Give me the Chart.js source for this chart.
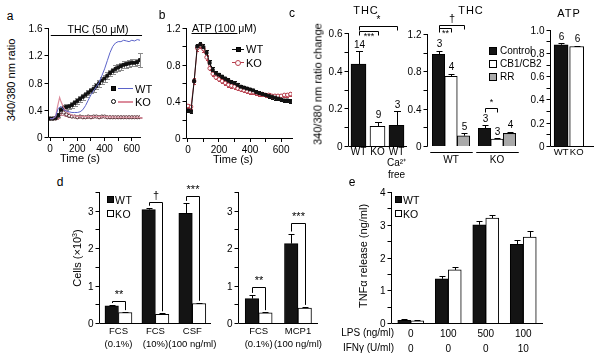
<!DOCTYPE html>
<html>
<head>
<meta charset="utf-8">
<script src="https://cdn.jsdelivr.net/npm/chart.js@4.4.1/dist/chart.umd.min.js"></script>
<style>
body{margin:0;width:600px;height:358px;position:relative;overflow:hidden;background:#fff;font-family:'Liberation Sans',Arial,sans-serif;color:#000}
.t{position:absolute;white-space:nowrap;line-height:1}
.box{position:absolute;box-sizing:border-box;border:1px solid #000}
</style>
</head>
<body>
<script>
// ---------- panel a : THC time course ----------
const aTime = [0,20,40,60,80,100,120,140,160,180,200,220,240,260,280,300,320,340,360,380,400,420,440,460,480,500,520,540,560,580,600,620,640,660];
const aWtMean = [0.27,0.27,0.28,0.32,0.4,0.43,0.44,0.45,0.47,0.5,0.53,0.56,0.59,0.62,0.65,0.68,0.71,0.75,0.79,0.83,0.86,0.9,0.94,0.97,1.0,1.02,1.04,1.06,1.07,1.08,1.09,1.09,1.1,1.13];
const aWtErr = [0.01,0.01,0.02,0.03,0.04,0.04,0.04,0.04,0.04,0.04,0.04,0.04,0.04,0.04,0.04,0.04,0.05,0.05,0.05,0.05,0.05,0.05,0.05,0.05,0.05,0.05,0.05,0.05,0.05,0.05,0.05,0.05,0.05,0.1];
const aKoMean = [0.27,0.27,0.27,0.31,0.37,0.36,0.33,0.31,0.3,0.3,0.29,0.3,0.29,0.29,0.3,0.29,0.3,0.3,0.29,0.3,0.3,0.29,0.29,0.29,0.29,0.29,0.29,0.29,0.29,0.29,0.29,0.29,0.29,0.29];
const aKoErr = [0.01,0.01,0.01,0.03,0.04,0.03,0.02,0.02,0.01,0.01,0.01,0.01,0.01,0.01,0.01,0.01,0.01,0.01,0.01,0.01,0.01,0.01,0.01,0.01,0.01,0.01,0.01,0.01,0.01,0.01,0.01,0.01,0.01,0.01];
const aWtTrace = [0.27,0.27,0.3,0.42,0.45,0.4,0.38,0.37,0.36,0.36,0.36,0.37,0.4,0.46,0.54,0.62,0.68,0.74,0.8,0.9,1.0,1.12,1.24,1.33,1.38,1.4,1.4,1.42,1.41,1.4,1.42,1.41,1.43,1.42];
const aKoTraceTime = [0,20,40,55,70,80,95,110,130,150,180,220,300,400,500,600,660];
const aKoTrace = [0.27,0.27,0.3,0.45,0.58,0.52,0.45,0.4,0.36,0.33,0.31,0.3,0.3,0.3,0.29,0.29,0.29];
const aStim = [5, 675, 1.49];
const aYMajor = [0,0.4,0.8,1.2,1.6];
const aXMajor = [0,200,400,600];
const aXMinor = [100,300,500];

// ---------- panel b : ATP time course ----------
const bTime = aTime;
const bWt = [0.3,0.29,0.62,1.0,1.02,0.99,0.93,0.82,0.74,0.71,0.69,0.67,0.65,0.63,0.61,0.6,0.58,0.56,0.55,0.54,0.53,0.52,0.5,0.49,0.48,0.47,0.46,0.45,0.44,0.43,0.42,0.41,0.41,0.4];
const bWtErr = [0.02,0.02,0.03,0.03,0.03,0.03,0.03,0.03,0.03,0.02,0.02,0.02,0.02,0.02,0.02,0.02,0.02,0.02,0.02,0.02,0.02,0.02,0.02,0.02,0.02,0.02,0.02,0.02,0.02,0.02,0.02,0.02,0.02,0.02];
const bKo = [0.35,0.34,0.62,0.98,1.01,0.97,0.88,0.76,0.7,0.66,0.64,0.62,0.6,0.58,0.57,0.56,0.54,0.53,0.52,0.51,0.5,0.5,0.49,0.48,0.48,0.47,0.47,0.46,0.46,0.46,0.46,0.47,0.47,0.48];
const bKoErr = [0.02,0.02,0.03,0.03,0.03,0.03,0.03,0.02,0.02,0.02,0.02,0.02,0.02,0.02,0.02,0.02,0.02,0.02,0.02,0.02,0.02,0.02,0.02,0.02,0.02,0.02,0.02,0.02,0.02,0.02,0.02,0.02,0.02,0.02];
const bStim = [23, 319, 1.145];
const bYMajor = [0,0.4,0.8,1.2];
const bYMinor = [0.2,0.6,1.0];

// ---------- panel c ----------
const c1Cats = [['WT'],['KO'],['WT','Ca\u00B2\u207A','free']];
const c1Vals = [0.435,0.105,0.11];
const c1Err = [0.07,0.025,0.075];
const c1N = ['14','9','3'];
const c2Cats = ['WT','KO'];
const c2Control = [0.98,0.19];
const c2ControlErr = [0.04,0.03];
const c2ControlN = ['3','3'];
const c2Cb = [0.745,0.075];
const c2CbErr = [0.03,0.01];
const c2CbN = ['4','3'];
const c2Rr = [0.11,0.135];
const c2RrErr = [0.025,0.02];
const c2RrN = ['5','4'];
const c3Cats = ['WT','KO'];
const c3Vals = [0.87,0.855];
const c3Err = [0.015,0.008];
const c3N = ['6','6'];

// ---------- panel d ----------
const d1Cats = [['FCS','(0.1%)'],['FCS','(10%)'],['CSF','(100 ng/ml)']];
const d1Wt = [0.46,3.03,2.93];
const d1WtErr = [0.02,0.05,0.28];
const d1Ko = [0.28,0.23,0.52];
const d1KoErr = [0.01,0.03,0.02];
const d2Cats = [['FCS','(0.1%)'],['MCP1','(100 ng/ml)']];
const d2Wt = [0.65,2.12];
const d2WtErr = [0.1,0.27];
const d2Ko = [0.27,0.4];
const d2KoErr = [0.02,0.03];

// ---------- panel e ----------
const eCats = [['0','0'],['100','0'],['500','0'],['100','10']];
const eWt = [0.08,1.35,3.0,2.4];
const eWtErr = [0.03,0.09,0.1,0.14];
const eKo = [0.07,1.62,3.2,2.62];
const eKoErr = [0.03,0.09,0.09,0.18];

Chart.defaults.font.family = "'Liberation Sans', Arial, sans-serif";
Chart.defaults.font.size = 10;
Chart.defaults.color = '#000';
Chart.defaults.animation = false;
Chart.defaults.plugins.legend.display = false;
Chart.defaults.plugins.tooltip.enabled = false;

const BLACK = '#141414', GREY = '#a9a9a9';
const FONT = "'Liberation Sans', Arial, sans-serif";

const errorBars = {
  id: 'errorBars',
  beforeDatasetsDraw(chart) {
    const ctx = chart.ctx, ys = chart.scales.y;
    chart.data.datasets.forEach((ds, i) => {
      if (!ds.err) return;
      const meta = chart.getDatasetMeta(i);
      ctx.save();
      ctx.strokeStyle = ds.errColor || '#000';
      ctx.lineWidth = 1;
      meta.data.forEach((el, j) => {
        const raw = ds.data[j];
        const v = typeof raw === 'object' ? raw.y : raw;
        const e = ds.err[j];
        const top = Math.round(ys.getPixelForValue(v + e)) + 0.5;
        const bot = ds.errBoth ? Math.round(ys.getPixelForValue(v - e)) + 0.5 : ys.getPixelForValue(v);
        const x = Math.round(el.x) + 0.5, cw = ds.capW || 3;
        ctx.beginPath();
        ctx.moveTo(x, bot); ctx.lineTo(x, top);
        ctx.moveTo(x - cw, top); ctx.lineTo(x + cw, top);
        if (ds.errBoth) { ctx.moveTo(x - cw, bot); ctx.lineTo(x + cw, bot); }
        ctx.stroke();
      });
      ctx.restore();
    });
  }
};

const extraCfg = {};
const panels = [];

function barTop(chart, ds, idx) {
  const d = chart.data.datasets[ds];
  const raw = d.data[idx];
  const v = typeof raw === 'object' ? raw.y : raw;
  const el = chart.getDatasetMeta(ds).data[idx];
  return {x: Math.round(el.x) + 0.5, v: v + (d.err ? d.err[idx] : 0), el};
}

const extras = {
  id: 'extras',
  afterDatasetsDraw(chart) {
    const cfg = extraCfg[chart.canvas.id] || {};
    const ctx = chart.ctx, xs = chart.scales.x, ys = chart.scales.y;
    ctx.save();
    ctx.strokeStyle = '#000'; ctx.fillStyle = '#000'; ctx.lineWidth = 1;
    if (cfg.stim) {
      const y = Math.round(ys.getPixelForValue(cfg.stim[2])) + 0.5;
      ctx.beginPath();
      ctx.moveTo(xs.getPixelForValue(cfg.stim[0]), y);
      ctx.lineTo(xs.getPixelForValue(cfg.stim[1]), y);
      ctx.stroke();
    }
    // n numbers above bars
    ctx.font = '10px ' + FONT;
    ctx.textAlign = 'center'; ctx.textBaseline = 'bottom';
    chart.data.datasets.forEach((d, i) => {
      if (!d.nums) return;
      d.nums.forEach((s, j) => {
        const p = barTop(chart, i, j);
        ctx.fillText(s, p.x, ys.getPixelForValue(p.v) - 1);
      });
    });
    // group lines under bars
    if (cfg.groupLines) {
      const n = chart.data.labels.length, last = chart.data.datasets.length - 1;
      for (let j = 0; j < n; j++) {
        const a = chart.getDatasetMeta(0).data[j], b = chart.getDatasetMeta(last).data[j];
        const y = chart.chartArea.bottom + 6.5;
        ctx.beginPath();
        ctx.moveTo(a.x - a.width / 2 - 2, y);
        ctx.lineTo(b.x + b.width / 2 + 3, y);
        ctx.stroke();
      }
    }
    // significance brackets
    (cfg.brackets || []).forEach(br => {
      const p1 = barTop(chart, br.a[0], br.a[1]), p2 = barTop(chart, br.b[0], br.b[1]);
      const y = Math.round(ys.getPixelForValue(br.y)) + 0.5;
      const l1 = br.full ? ys.getPixelForValue(p1.v) - 2 : y + 4;
      const l2 = br.full ? ys.getPixelForValue(p2.v) - 2 : y + 4;
      ctx.beginPath();
      ctx.moveTo(p1.x, l1); ctx.lineTo(p1.x, y); ctx.lineTo(p2.x, y); ctx.lineTo(p2.x, l2);
      ctx.stroke();
      ctx.font = (br.size || 10) + 'px ' + FONT;
      ctx.textBaseline = br.below ? 'top' : 'bottom';
      ctx.fillText(br.text, (p1.x + p2.x) / 2, br.below ? y + 1 : y - 1);
    });
    ctx.restore();
  }
};

// hidden value scale; the visible axis is painted on the page overlay
function valAxis(min, max) {
  return {type: 'linear', position: 'left', min, max, display: false};
}

function numAxis(min, max, major, minor, fmt, pos) {
  return {
    type: 'linear', position: pos, min, max,
    border: {display: true, color: '#000', width: 1},
    grid: {display: true, drawOnChartArea: false, drawTicks: true, tickLength: 4, color: '#000'},
    afterBuildTicks: s => { s.ticks = major.concat(minor).sort((p, q) => p - q).map(v => ({value: v})); },
    ticks: {color: '#000', padding: 2, autoSkip: false, maxRotation: 0, font: {size: 10},
      callback: v => major.includes(v) ? fmt(v) : ''}
  };
}

function catAxis(border, pad, lh, size) {
  return {
    type: 'category', offset: true,
    border: {display: border, color: '#000', width: 1},
    grid: {display: true, drawOnChartArea: false, drawTicks: false},
    ticks: {color: '#000', padding: pad, autoSkip: false, maxRotation: 0, minRotation: 0, font: {size: size || 10, lineHeight: lh}}
  };
}

function panel(id, area, m, yTicks, config) {
  const left = area.l - m.yw - m.pl, top = area.t - m.pt;
  const w = area.r + m.pr - left, h = area.b + m.xh + m.pb - top;
  const div = document.createElement('div');
  div.style.cssText = `position:absolute;left:${left}px;top:${top}px;width:${w}px;height:${h}px`;
  const c = document.createElement('canvas');
  c.id = id;
  div.appendChild(c);
  document.body.appendChild(div);
  config.options.responsive = true;
  config.options.maintainAspectRatio = false;
  config.options.devicePixelRatio = 1;
  config.options.layout = {padding: {left: m.pl + m.yw, right: m.pr, top: m.pt, bottom: m.pb}};
  config.options.scales.x.afterFit = s => { s.height = m.xh; };
  config.plugins = [errorBars, extras];
  const chart = new Chart(c, config);
  panels.push({chart, ax: yTicks, ox: left, oy: top});
  return chart;
}

function txt(s, x, y, o = {}) {
  const d = document.createElement('div');
  d.className = 't';
  d.innerHTML = s;
  const tx = o.anchor === 'l' ? '0' : o.anchor === 'r' ? '-100%' : '-50%';
  d.style.left = x + 'px';
  d.style.top = y + 'px';
  d.style.fontSize = (o.size || 10) + 'px';
  if (o.ls) d.style.letterSpacing = o.ls + 'px';
  d.style.transform = `translate(${tx},-50%)` + (o.rot ? ' rotate(-90deg)' : '');
  document.body.appendChild(d);
}

function box(x, y, w, h, bg, extra) {
  const d = document.createElement('div');
  d.className = 'box';
  d.style.cssText += `left:${x}px;top:${y}px;width:${w}px;height:${h}px;background:${bg};` + (extra || '');
  document.body.appendChild(d);
}

const pts = (xs, ys) => xs.map((x, i) => ({x, y: ys[i]}));
const fmt1 = v => String(v);
const fmtFix = v => v === 0 ? '0' : v.toFixed(1);

// ---- a ----
extraCfg.pa = {stim: aStim};
panel('pa', {l: 49, t: 28, r: 140, b: 137}, {yw: 28, xh: 20, pl: 4, pr: 8, pt: 10, pb: 4},
  {major: aYMajor, minor: [], fmt: fmt1, top: 1.6}, {
  type: 'line',
  data: {datasets: [
    {data: pts(aTime, aWtTrace), borderColor: '#5b63c9', borderWidth: 1, pointRadius: 0, tension: 0},
    {data: pts(aKoTraceTime, aKoTrace), borderColor: '#dc8c9c', borderWidth: 1.2, pointRadius: 0, tension: 0},
    {data: pts(aTime, aWtMean), err: aWtErr, errBoth: true, errColor: '#8c8c8c', capW: 2.5,
      borderColor: '#222', borderWidth: 1, pointStyle: 'rect', pointRadius: 2, pointBackgroundColor: '#111', pointBorderColor: '#111'},
    {data: pts(aTime, aKoMean), err: aKoErr, errBoth: true, errColor: '#c98592', capW: 2,
      borderColor: '#6a3a40', borderWidth: 1, pointStyle: 'circle', pointRadius: 1.6, pointBackgroundColor: '#fff', pointBorderColor: '#5a3036'}
  ]},
  options: {scales: {
    x: numAxis(-8, 660, aXMajor, aXMinor, fmt1, 'bottom'),
    y: valAxis(0, 1.6)
  }}
});

// ---- b ----
extraCfg.pb = {stim: bStim};
panel('pb', {l: 187, t: 28, r: 292, b: 138}, {yw: 28, xh: 20, pl: 4, pr: 8, pt: 10, pb: 4},
  {major: bYMajor, minor: bYMinor, fmt: fmt1, top: 1.2}, {
  type: 'line',
  data: {datasets: [
    {data: pts(bTime, bWt), err: bWtErr, errBoth: true, errColor: '#111', capW: 1.5,
      borderColor: '#111', borderWidth: 1, pointStyle: 'rect', pointRadius: 2, pointBackgroundColor: '#111', pointBorderColor: '#111'},
    {data: pts(bTime, bKo), err: bKoErr, errBoth: true, errColor: '#b8404e', capW: 1.5,
      borderColor: '#b8404e', borderWidth: 1, pointStyle: 'circle', pointRadius: 1.8, pointBackgroundColor: '#fff', pointBorderColor: '#b8404e'}
  ]},
  options: {scales: {
    x: numAxis(-6, 670, aXMajor, aXMinor, fmt1, 'bottom'),
    y: valAxis(0, 1.2)
  }}
});

// ---- c1 ----  (value range runs above the top tick to leave room for the brackets)
extraCfg.pc1 = {brackets: [
  {a: [0, 0], b: [0, 1], y: 0.61, text: '***', below: true, size: 9},
  {a: [0, 0], b: [0, 2], y: 0.64, text: '*', size: 10}
]};
panel('pc1', {l: 349, t: 3, r: 406, b: 146}, {yw: 26, xh: 36, pl: 2, pr: 4, pt: 2, pb: 2},
  {major: [0, 0.2, 0.4, 0.6], minor: [0.1, 0.3, 0.5], fmt: fmt1, top: 0.6}, {
  type: 'bar',
  data: {labels: c1Cats, datasets: [
    {data: c1Vals, err: c1Err, nums: c1N, capW: 3.5, backgroundColor: [BLACK, '#fff', BLACK], borderColor: '#000', borderWidth: 1, barThickness: 15}
  ]},
  options: {scales: {
    x: catAxis(true, 0, 1.15),
    y: valAxis(0, 0.76)
  }}
});

// ---- c2 ----
extraCfg.pc2 = {groupLines: true, brackets: [
  {a: [0, 0], b: [1, 0], y: 1.26, text: '**', below: true, size: 9},
  {a: [0, 0], b: [2, 0], y: 1.3, text: '\u2020', size: 11},
  {a: [0, 1], b: [1, 1], y: 0.41, text: '*', size: 9}
]};
panel('pc2', {l: 428, t: 4, r: 520, b: 146}, {yw: 22, xh: 22, pl: 2, pr: 4, pt: 2, pb: 2},
  {major: [0, 0.4, 0.8, 1.2], minor: [0.2, 0.6, 1.0], fmt: fmt1, top: 1.2}, {
  type: 'bar',
  data: {labels: c2Cats, datasets: [
    {label: 'Control', data: c2Control, err: c2ControlErr, nums: c2ControlN, capW: 3, backgroundColor: BLACK, borderColor: '#000', borderWidth: 1, barThickness: 12.5},
    {label: 'CB1/CB2', data: c2Cb, err: c2CbErr, nums: c2CbN, capW: 3, backgroundColor: '#fff', borderColor: '#000', borderWidth: 1, barThickness: 12.5},
    {label: 'RR', data: c2Rr, err: c2RrErr, nums: c2RrN, capW: 3, backgroundColor: GREY, borderColor: '#000', borderWidth: 1, barThickness: 12.5}
  ]},
  options: {scales: {
    x: catAxis(false, 8, 1.2),
    y: valAxis(0, 1.52)
  }}
});

// ---- c3 (ATP) ----
const c3x = numAxis(-0.65, 2.05, [], [], fmt1, 'bottom');
c3x.offset = false;
c3x.grid.drawTicks = false;
c3x.ticks.padding = 1;
c3x.ticks.font = {size: 9.5};
c3x.afterBuildTicks = s => { s.ticks = c3Cats.map((c, i) => ({value: i})); };
c3x.ticks.callback = v => c3Cats[v];
panel('pc3', {l: 551, t: 18, r: 593, b: 146}, {yw: 22, xh: 14, pl: 2, pr: 4, pt: 4, pb: 2},
  {major: [0, 0.2, 0.4, 0.6, 0.8, 1.0], minor: [0.1, 0.3, 0.5, 0.7, 0.9], fmt: fmtFix, top: 1.0}, {
  type: 'bar',
  data: {datasets: [
    {data: pts(c3Vals.map((v, i) => i), c3Vals), err: c3Err, nums: c3N, capW: 3, backgroundColor: [BLACK, '#fff'], borderColor: '#000', borderWidth: 1, barThickness: 14}
  ]},
  options: {scales: {
    x: c3x,
    y: valAxis(0, 1.1)
  }}
});

// ---- d1 ----
const dYTicks = {major: [0, 1, 2, 3], minor: [0.5, 1.5, 2.5, 3.5], fmt: fmt1, top: 3.5};
extraCfg.pd1 = {brackets: [
  {a: [0, 0], b: [1, 0], y: 0.58, text: '**', size: 11, full: true},
  {a: [0, 1], b: [1, 1], y: 3.23, text: '\u2020', size: 11, full: true},
  {a: [0, 2], b: [1, 2], y: 3.4, text: '***', size: 11, full: true}
]};
panel('pd1', {l: 100, t: 192, r: 214, b: 323}, {yw: 16, xh: 30, pl: 2, pr: 4, pt: 16, pb: 2}, dYTicks, {
  type: 'bar',
  data: {labels: d1Cats, datasets: [
    {label: 'WT', data: d1Wt, err: d1WtErr, capW: 3, backgroundColor: BLACK, borderColor: '#000', borderWidth: 1, barThickness: 13.5},
    {label: 'KO', data: d1Ko, err: d1KoErr, capW: 3, backgroundColor: '#fff', borderColor: '#000', borderWidth: 1, barThickness: 13.5}
  ]},
  options: {scales: {
    x: catAxis(true, 1, 1.45, 9.5),
    y: valAxis(0, 3.5)
  }}
});

// ---- d2 ----
extraCfg.pd2 = {brackets: [
  {a: [0, 0], b: [1, 0], y: 0.96, text: '**', size: 11, full: true},
  {a: [0, 1], b: [1, 1], y: 2.67, text: '***', size: 11, full: true}
]};
panel('pd2', {l: 239, t: 192, r: 320, b: 323}, {yw: 16, xh: 30, pl: 2, pr: 4, pt: 16, pb: 2}, dYTicks, {
  type: 'bar',
  data: {labels: d2Cats, datasets: [
    {label: 'WT', data: d2Wt, err: d2WtErr, capW: 3, backgroundColor: BLACK, borderColor: '#000', borderWidth: 1, barThickness: 13.5},
    {label: 'KO', data: d2Ko, err: d2KoErr, capW: 3, backgroundColor: '#fff', borderColor: '#000', borderWidth: 1, barThickness: 13.5}
  ]},
  options: {scales: {
    x: catAxis(true, 1, 1.45, 9.5),
    y: valAxis(0, 3.5)
  }}
});

// ---- e ----
panel('pe', {l: 392, t: 192, r: 542, b: 323}, {yw: 16, xh: 34, pl: 2, pr: 6, pt: 8, pb: 2},
  {major: [0, 1, 2, 3, 4], minor: [0.5, 1.5, 2.5, 3.5], fmt: fmt1, top: 4}, {
  type: 'bar',
  data: {labels: eCats, datasets: [
    {label: 'WT', data: eWt, err: eWtErr, capW: 3, backgroundColor: BLACK, borderColor: '#000', borderWidth: 1, barThickness: 13},
    {label: 'KO', data: eKo, err: eKoErr, capW: 3, backgroundColor: '#fff', borderColor: '#000', borderWidth: 1, barThickness: 13}
  ]},
  options: {scales: {
    x: catAxis(true, 4, 1.5),
    y: valAxis(0, 4)
  }}
});

// ---- text, titles, legends ----
txt('a', 10, 16, {size: 12});
txt('b', 162, 15, {size: 12});
txt('c', 292, 13, {size: 12});
txt('d', 60, 182, {size: 12});
txt('e', 352, 182, {size: 12});

txt('THC (50 \u03BCM)', 98, 29, {size: 10.5});
txt('340/380 nm ratio', 11, 80, {size: 11, rot: true});
txt('Time (s)', 80, 158, {size: 11});
box(111, 86, 5, 5, '#111');
box(118, 88, 15, 1, '#5b63c9', 'border:none');
txt('WT', 135, 89, {size: 11, anchor: 'l'});
box(111, 99, 5, 5, '#fff', 'border-radius:50%');
box(118, 101, 15, 1.5, '#dc8c9c', 'border:none');
txt('KO', 135, 102, {size: 11, anchor: 'l'});

txt('ATP (100 \u03BCM)', 192, 28, {size: 10.5, anchor: 'l'});
txt('Time (s)', 233, 159, {size: 11});
box(232, 49, 12, 1, '#111', 'border:none');
box(236, 47, 5, 5, '#111');
txt('WT', 246, 49, {size: 11, anchor: 'l'});
box(232, 62, 12, 1, '#b8404e', 'border:none');
box(235, 60, 6, 6, '#fff', 'border-radius:50%;border-color:#b8404e');
txt('KO', 246, 63, {size: 11, anchor: 'l'});

txt('THC', 366, 10, {size: 11, ls: 1});
txt('THC', 471, 10, {size: 11, ls: 1});
txt('ATP', 569, 13, {size: 11, ls: 1});
txt('340/380 nm ratio change', 318, 84, {size: 11, rot: true});
box(489, 47, 8, 8, BLACK);
txt('Control', 500, 51, {size: 10, anchor: 'l'});
box(489, 60, 8, 8, '#fff');
txt('CB1/CB2', 500, 64, {size: 10, anchor: 'l'});
box(489, 73, 8, 8, GREY);
txt('RR', 500, 77, {size: 10, anchor: 'l'});

txt('Cells (\u00D710<sup style="font-size:7px">3</sup>)', 77, 258, {size: 11, rot: true});
box(107, 196, 7, 7, BLACK);
txt('WT', 115, 200, {size: 10.5, anchor: 'l', ls: 0.5});
box(107, 210, 7, 7, '#fff');
txt('KO', 115, 214, {size: 10.5, anchor: 'l', ls: 0.5});

txt('TNF\u03B1 release (ng/ml)', 363, 256, {size: 11, rot: true});
box(395, 196, 7, 7, BLACK);
txt('WT', 403, 200, {size: 10.5, anchor: 'l'});
box(395, 210, 7, 7, '#fff');
txt('KO', 403, 214, {size: 10.5, anchor: 'l'});
txt('LPS (ng/ml)', 394, 333, {size: 10, anchor: 'r'});
txt('IFN\u03B3 (U/ml)', 394, 348, {size: 10, anchor: 'r'});

// ---- value axes: one page overlay, positions taken from each chart's y scale ----
const overlay = document.createElement('canvas');
overlay.width = 600;
overlay.height = 358;
overlay.style.cssText = 'position:absolute;left:0;top:0;z-index:10;pointer-events:none';
document.body.appendChild(overlay);

function drawYAxes() {
  const ctx = overlay.getContext('2d');
  ctx.clearRect(0, 0, overlay.width, overlay.height);
  ctx.strokeStyle = '#000'; ctx.fillStyle = '#000'; ctx.lineWidth = 1;
  ctx.font = '10px ' + FONT;
  ctx.textAlign = 'right'; ctx.textBaseline = 'middle';
  panels.forEach(({chart, ax, ox, oy}) => {
    const ys = chart.scales.y, area = chart.chartArea;
    if (!ys || !area) return;
    const x = ox + Math.round(area.left) - 0.5;
    const py = v => oy + Math.round(ys.getPixelForValue(v));
    ctx.beginPath();
    ctx.moveTo(x, py(ax.top));
    ctx.lineTo(x, oy + area.bottom + 0.5);
    ax.major.concat(ax.minor).forEach(v => {
      ctx.moveTo(x - 4, py(v) + 0.5);
      ctx.lineTo(x, py(v) + 0.5);
    });
    ctx.stroke();
    ax.major.forEach(v => ctx.fillText(ax.fmt(v), x - 6, py(v) + 1));
  });
}
drawYAxes();
setTimeout(drawYAxes, 60);
</script>
</body>
</html>
